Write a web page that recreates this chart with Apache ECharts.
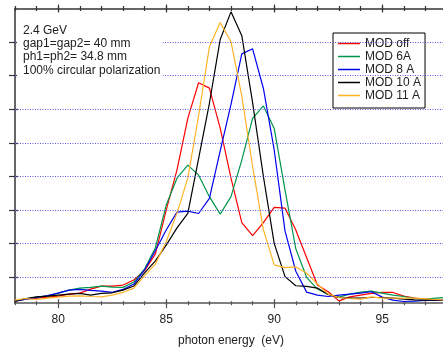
<!DOCTYPE html>
<html>
<head>
<meta charset="utf-8">
<script src="https://cdn.jsdelivr.net/npm/echarts@6/dist/echarts.min.js"></script>
<style>
html,body{margin:0;padding:0;background:#fff;}
#c{width:443px;height:350px;}
</style>
</head>
<body>
<div id="c"></div>
<script>
// photon energy (eV)
const energy = [78,78.5,79,79.5,80,80.5,81,81.5,82,82.5,83,83.5,84,84.5,85,85.5,86,86.5,87,87.5,88,88.5,89,89.5,90,90.5,91,91.5,92,92.5,93,93.5,94,94.5,95,95.5,96,96.5,97,97.5,98];

// intensity (arbitrary units; gridline spacing = 1)
const modOff = [-0.71,-0.65,-0.62,-0.59,-0.56,-0.50,-0.47,-0.35,-0.26,-0.26,-0.23,-0.08,0.20,0.70,2.00,3.20,4.73,5.79,5.63,4.44,2.95,1.63,1.24,1.63,2.08,2.06,1.41,0.59,-0.23,-0.43,-0.70,-0.58,-0.53,-0.48,-0.45,-0.45,-0.56,-0.62,-0.65,-0.68,-0.68];
const mod6A = [-0.71,-0.65,-0.59,-0.56,-0.47,-0.38,-0.32,-0.30,-0.26,-0.29,-0.30,-0.14,0.25,0.88,2.15,2.95,3.34,3.04,2.40,1.88,2.40,3.49,4.73,5.10,4.43,2.60,0.85,0.00,-0.35,-0.51,-0.59,-0.50,-0.44,-0.41,-0.47,-0.53,-0.57,-0.63,-0.65,-0.62,-0.59];
const mod8A = [-0.71,-0.65,-0.60,-0.54,-0.47,-0.38,-0.36,-0.39,-0.41,-0.45,-0.36,-0.20,0.22,0.80,1.41,1.94,1.97,1.90,2.35,3.76,5.15,6.65,6.80,5.62,3.79,1.38,0.18,-0.44,-0.53,-0.57,-0.53,-0.50,-0.47,-0.43,-0.59,-0.68,-0.72,-0.71,-0.69,-0.68,-0.66];
const mod10A = [-0.71,-0.63,-0.58,-0.56,-0.53,-0.50,-0.48,-0.53,-0.48,-0.46,-0.38,-0.26,0.13,0.49,0.96,1.47,1.90,3.53,5.18,7.08,7.90,7.19,5.20,3.00,1.01,0.02,-0.25,-0.27,-0.32,-0.51,-0.60,-0.62,-0.62,-0.60,-0.60,-0.62,-0.65,-0.67,-0.68,-0.68,-0.68];
const mod11A = [-0.68,-0.63,-0.66,-0.62,-0.59,-0.56,-0.55,-0.57,-0.58,-0.53,-0.45,-0.32,0.05,0.40,1.06,1.91,2.95,4.81,6.86,7.58,7.01,5.39,3.30,1.41,0.37,0.29,0.31,0.13,-0.20,-0.50,-0.60,-0.63,-0.65,-0.58,-0.62,-0.62,-0.62,-0.62,-0.64,-0.66,-0.68];

const seriesNames = ['MOD off','MOD 6A','MOD 8 A','MOD 10 A','MOD 11 A'];
const seriesColors = ['#ff0000','#00964a','#0000ee','#000000','#ffb428'];
const seriesValues = [modOff, mod6A, mod8A, mod10A, mod11A];

const majorTicks = [80,85,90,95];
const gridLevels = [0,1,2,3,4,5,6,7];
const infoText = ['2.4 GeV','gap1=gap2= 40 mm','ph1=ph2= 34.8 mm','100% circular polarization'];

const FONT = '"Liberation Sans", Arial, Helvetica, sans-serif';
const axisCol = '#555';

function xAx(extra){
  return Object.assign({
    type:'value', min:78, max:98, interval:1,
    axisLine:{show:false, onZero:false, lineStyle:{color:axisCol, width:1.5}},
    axisTick:{show:false}, axisLabel:{show:false}, splitLine:{show:false}
  }, extra);
}
function yAx(extra){
  return Object.assign({
    type:'value', min:-0.77, max:8,
    axisLine:{show:false, onZero:false, lineStyle:{color:axisCol, width:1.5}},
    axisTick:{show:false}, axisLabel:{show:false}, splitLine:{show:false}
  }, extra);
}

const chart = echarts.init(document.getElementById('c'), null, {renderer:'canvas'});

const series = [{
  type:'line', name:'grid', data:[], z:1, silent:true,
  markLine:{
    silent:true, symbol:'none', animation:false,
    label:{show:false},
    lineStyle:{type:[1,1.5], color:'#5858e6', width:1},
    data: gridLevels.map(v => ({yAxis:v}))
  }
}];
seriesNames.forEach((n,i) => {
  series.push({
    type:'line', name:n, z:3,
    data: energy.map((e,k) => [e, seriesValues[i][k]]),
    showSymbol:false, symbol:'none',
    lineStyle:{color:seriesColors[i], width:1.2},
    itemStyle:{color:seriesColors[i]}
  });
});

chart.setOption({
  animation:false,
  backgroundColor:'#fff',
  textStyle:{fontFamily:FONT},
  grid:{left:15, top:8.5, width:432, height:294.7, containLabel:false, outerBoundsMode:'none'},
  title:{
    text: infoText.join('\n'),
    left:17, top:20,
    padding:[4,2,1,6],
    backgroundColor:'#fff',
    textStyle:{fontSize:12, fontWeight:'normal', color:'#222', lineHeight:13.2, fontFamily:FONT}
  },
  legend:{
    data: seriesNames,
    orient:'vertical',
    left:333, top:33,
    padding:[4,4,6,5],
    itemGap:0,
    itemWidth:22, itemHeight:1.5,
    icon:'rect',
    backgroundColor:'#fff',
    borderColor:'#000', borderWidth:1,
    textStyle:{fontSize:12, color:'#222', lineHeight:13, fontFamily:FONT}
  },
  xAxis:[
    xAx({position:'bottom',
      axisLine:{show:true, onZero:false, lineStyle:{color:axisCol, width:1.5}},
      axisLabel:{show:true, margin:10, fontSize:12, color:'#222', fontFamily:FONT,
        formatter: v => (majorTicks.indexOf(v) >= 0 ? String(v) : '')},
      name:'photon energy  (eV)', nameLocation:'middle', nameGap:31,
      nameTextStyle:{fontSize:12, color:'#222', fontFamily:FONT}
    }),
    xAx({position:'bottom', offset:-2, axisTick:{show:true, length:4, lineStyle:{color:axisCol, width:1.2}}}),
    xAx({position:'bottom', offset:-4, axisTick:{show:true, length:9, customValues:majorTicks, lineStyle:{color:axisCol, width:1.2}}}),
    xAx({position:'top', axisLine:{show:true, onZero:false, lineStyle:{color:'#333', width:1.5}}}),
    xAx({position:'top', offset:-2.5, axisTick:{show:true, length:5, lineStyle:{color:'#333', width:1.2}}}),
    xAx({position:'top', offset:-4, axisTick:{show:true, length:8, customValues:majorTicks, lineStyle:{color:'#333', width:1.2}}})
  ],
  yAxis:[
    yAx({position:'left', axisLine:{show:true, onZero:false, lineStyle:{color:'#666', width:2}}}),
    yAx({position:'left', offset:-3, axisTick:{show:true, length:9, customValues:gridLevels, lineStyle:{color:'#333', width:1.2}}})
  ],
  series: series
});
</script>
</body>
</html>
